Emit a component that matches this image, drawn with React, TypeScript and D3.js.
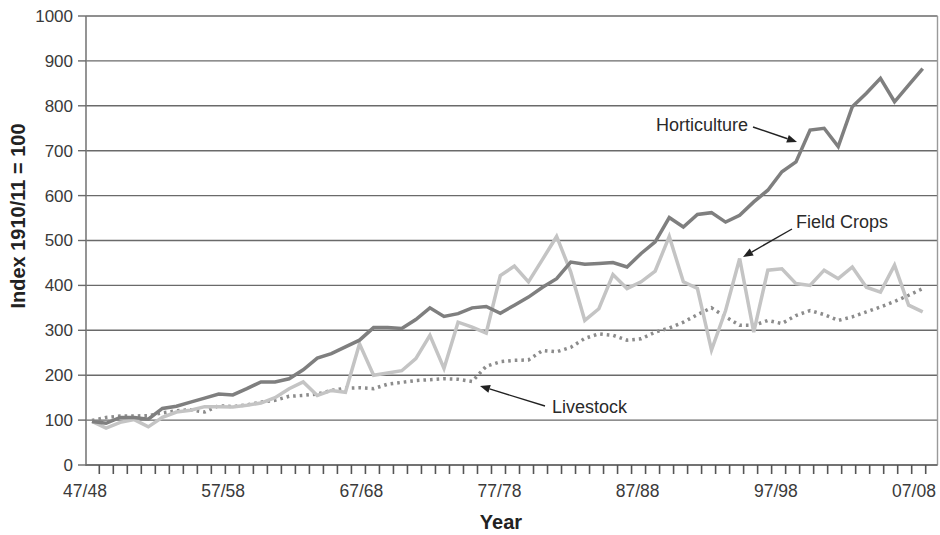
import React from "react";
import * as d3 from "d3";

const categories = [
  "47/48","48/49","49/50","50/51","51/52","52/53","53/54","54/55","55/56","56/57",
  "57/58","58/59","59/60","60/61","61/62","62/63","63/64","64/65","65/66","66/67",
  "67/68","68/69","69/70","70/71","71/72","72/73","73/74","74/75","75/76","76/77",
  "77/78","78/79","79/80","80/81","81/82","82/83","83/84","84/85","85/86","86/87",
  "87/88","88/89","89/90","90/91","91/92","92/93","93/94","94/95","95/96","96/97",
  "97/98","98/99","99/00","00/01","01/02","02/03","03/04","04/05","05/06","06/07",
];

const horticulture = [
  97, 93, 106, 106, 102, 126, 131, 140, 149, 158,
  156, 170, 185, 185, 192, 212, 238, 248, 263, 278,
  306, 306, 304, 324, 350, 331, 337, 350, 353, 338,
  356, 374, 396, 415, 452, 447, 449, 451, 441, 471,
  497, 551, 530, 558, 562, 541, 556, 586, 612, 653,
  675, 746, 750, 709, 798, 828, 861, 809, 846, 883,
];

const fieldCrops = [
  97, 82, 95, 101, 85, 106, 118, 122, 130, 130,
  129, 133, 138, 150, 170, 185, 155, 166, 162, 270,
  200, 205, 210, 237, 289, 215, 318, 307, 294, 422,
  443, 408, 458, 509, 430, 322, 348, 424, 393, 408,
  432, 509, 408, 393, 256, 344, 460, 296, 434, 437,
  404, 400, 434, 415, 441, 396, 385, 445, 356, 341,
];

const livestock = [
  99, 106, 109, 109, 110, 116, 121, 123, 118, 132,
  130, 134, 140, 144, 153, 155, 158, 166, 171, 172,
  170, 180, 184, 188, 190, 192, 191, 186, 220, 230,
  233, 234, 255, 252, 262, 282, 292, 289, 278, 281,
  296, 305, 318, 335, 350, 330, 311, 311, 322, 315,
  333, 344, 335, 322, 330, 341, 352, 364, 378, 393,
];

const xTickLabels = ["47/48", "57/58", "67/68", "77/78", "87/88", "97/98", "07/08"];
const yTicks = [0, 100, 200, 300, 400, 500, 600, 700, 800, 900, 1000];

const FONT = "'Liberation Sans', Arial, Helvetica, sans-serif";

export default function App() {
  const plotLeft = 86;
  const plotRight = 937.5;
  const x = d3.scaleLinear().domain([0, categories.length - 1]).range([92, 922.7]);
  const y = d3.scaleLinear().domain([0, 1000]).range([465, 16]);
  const tickX = d3.scaleLinear().domain([0, categories.length - 1]).range([99.3, 925.7]);
  const labelX = d3.scaleLinear().domain([0, xTickLabels.length - 1]).range([85, 914]);

  const line = d3
    .line<number>()
    .x((_, i) => x(i))
    .y((d) => y(d));

  const minorTicks = d3.range(categories.length);

  const arrow = (x1: number, y1: number, x2: number, y2: number, key: string) => {
    const ang = Math.atan2(y2 - y1, x2 - x1);
    const len = 10;
    const w = 4;
    const bx = x2 - len * Math.cos(ang);
    const by = y2 - len * Math.sin(ang);
    const px = -Math.sin(ang) * w;
    const py = Math.cos(ang) * w;
    return (
      <g key={key}>
        <line x1={x1} y1={y1} x2={bx} y2={by} stroke="#222" strokeWidth={1.4} />
        <path
          d={`M${x2},${y2}L${bx + px},${by + py}L${bx - px},${by - py}Z`}
          fill="#222"
        />
      </g>
    );
  };

  return (
    <svg
      width={940}
      height={535}
      style={{ position: "absolute", left: 0, top: 0, background: "#fff" }}
      fontFamily={FONT}
    >
      {/* gridlines */}
      {yTicks.map((t) => (
        <line
          key={"g" + t}
          x1={plotLeft}
          x2={plotRight}
          y1={y(t)}
          y2={y(t)}
          stroke="#6a6a6a"
          strokeWidth={1.4}
        />
      ))}
      {/* right border */}
      <line x1={plotRight} x2={plotRight} y1={y(1000)} y2={y(0)} stroke="#9a9a9a" strokeWidth={1.4} />
      {/* left axis */}
      <line x1={plotLeft} x2={plotLeft} y1={y(1000)} y2={y(0) + 1} stroke="#7a7a7a" strokeWidth={1.6} />
      {/* bottom axis */}
      <line x1={plotLeft} x2={plotRight} y1={y(0)} y2={y(0)} stroke="#6a6a6a" strokeWidth={1.6} />

      {/* y ticks and labels */}
      {yTicks.map((t) => (
        <g key={"yt" + t}>
          <line x1={78} x2={plotLeft} y1={y(t)} y2={y(t)} stroke="#6a6a6a" strokeWidth={1.4} />
          <text
            x={73}
            y={y(t)}
            dy="0.35em"
            textAnchor="end"
            fontSize={17}
            fill="#3a3a3a"
          >
            {t}
          </text>
        </g>
      ))}

      {/* x minor ticks */}
      {minorTicks.map((i) => (
        <line
          key={"xt" + i}
          x1={tickX(i)}
          x2={tickX(i)}
          y1={y(0)}
          y2={y(0) + 9}
          stroke="#555"
          strokeWidth={1.6}
        />
      ))}
      {/* x labels */}
      {xTickLabels.map((lab, k) => (
        <text
          key={"xl" + lab}
          x={labelX(k)}
          y={497}
          textAnchor="middle"
          fontSize={17.5}
          fill="#3a3a3a"
        >
          {lab}
        </text>
      ))}

      {/* series */}
      <path
        d={line(livestock) || ""}
        fill="none"
        stroke="#8c8c8c"
        strokeWidth={3.5}
        strokeDasharray="2.6 4"
      />
      <path
        d={line(fieldCrops) || ""}
        fill="none"
        stroke="#c4c4c4"
        strokeWidth={3.5}
        strokeLinejoin="miter"
      />
      <path
        d={line(horticulture) || ""}
        fill="none"
        stroke="#7f7f7f"
        strokeWidth={3.5}
        strokeLinejoin="miter"
      />

      {/* annotations */}
      <text x={748} y={131} textAnchor="end" fontSize={18} fill="#2a2a2a">
        Horticulture
      </text>
      {arrow(753, 127, 797, 142, "a1")}
      <text x={796} y={228} fontSize={18} fill="#2a2a2a">
        Field Crops
      </text>
      {arrow(792, 229, 743, 257, "a2")}
      <text x={552} y={413} fontSize={18} fill="#2a2a2a">
        Livestock
      </text>
      {arrow(545, 406, 480, 386, "a3")}

      {/* axis titles */}
      <text
        transform={`translate(25,216) rotate(-90)`}
        textAnchor="middle"
        fontSize={20}
        fontWeight="bold"
        fill="#222"
      >
        Index 1910/11 = 100
      </text>
      <text x={501} y={529} textAnchor="middle" fontSize={20} fontWeight="bold" fill="#222">
        Year
      </text>
    </svg>
  );
}
